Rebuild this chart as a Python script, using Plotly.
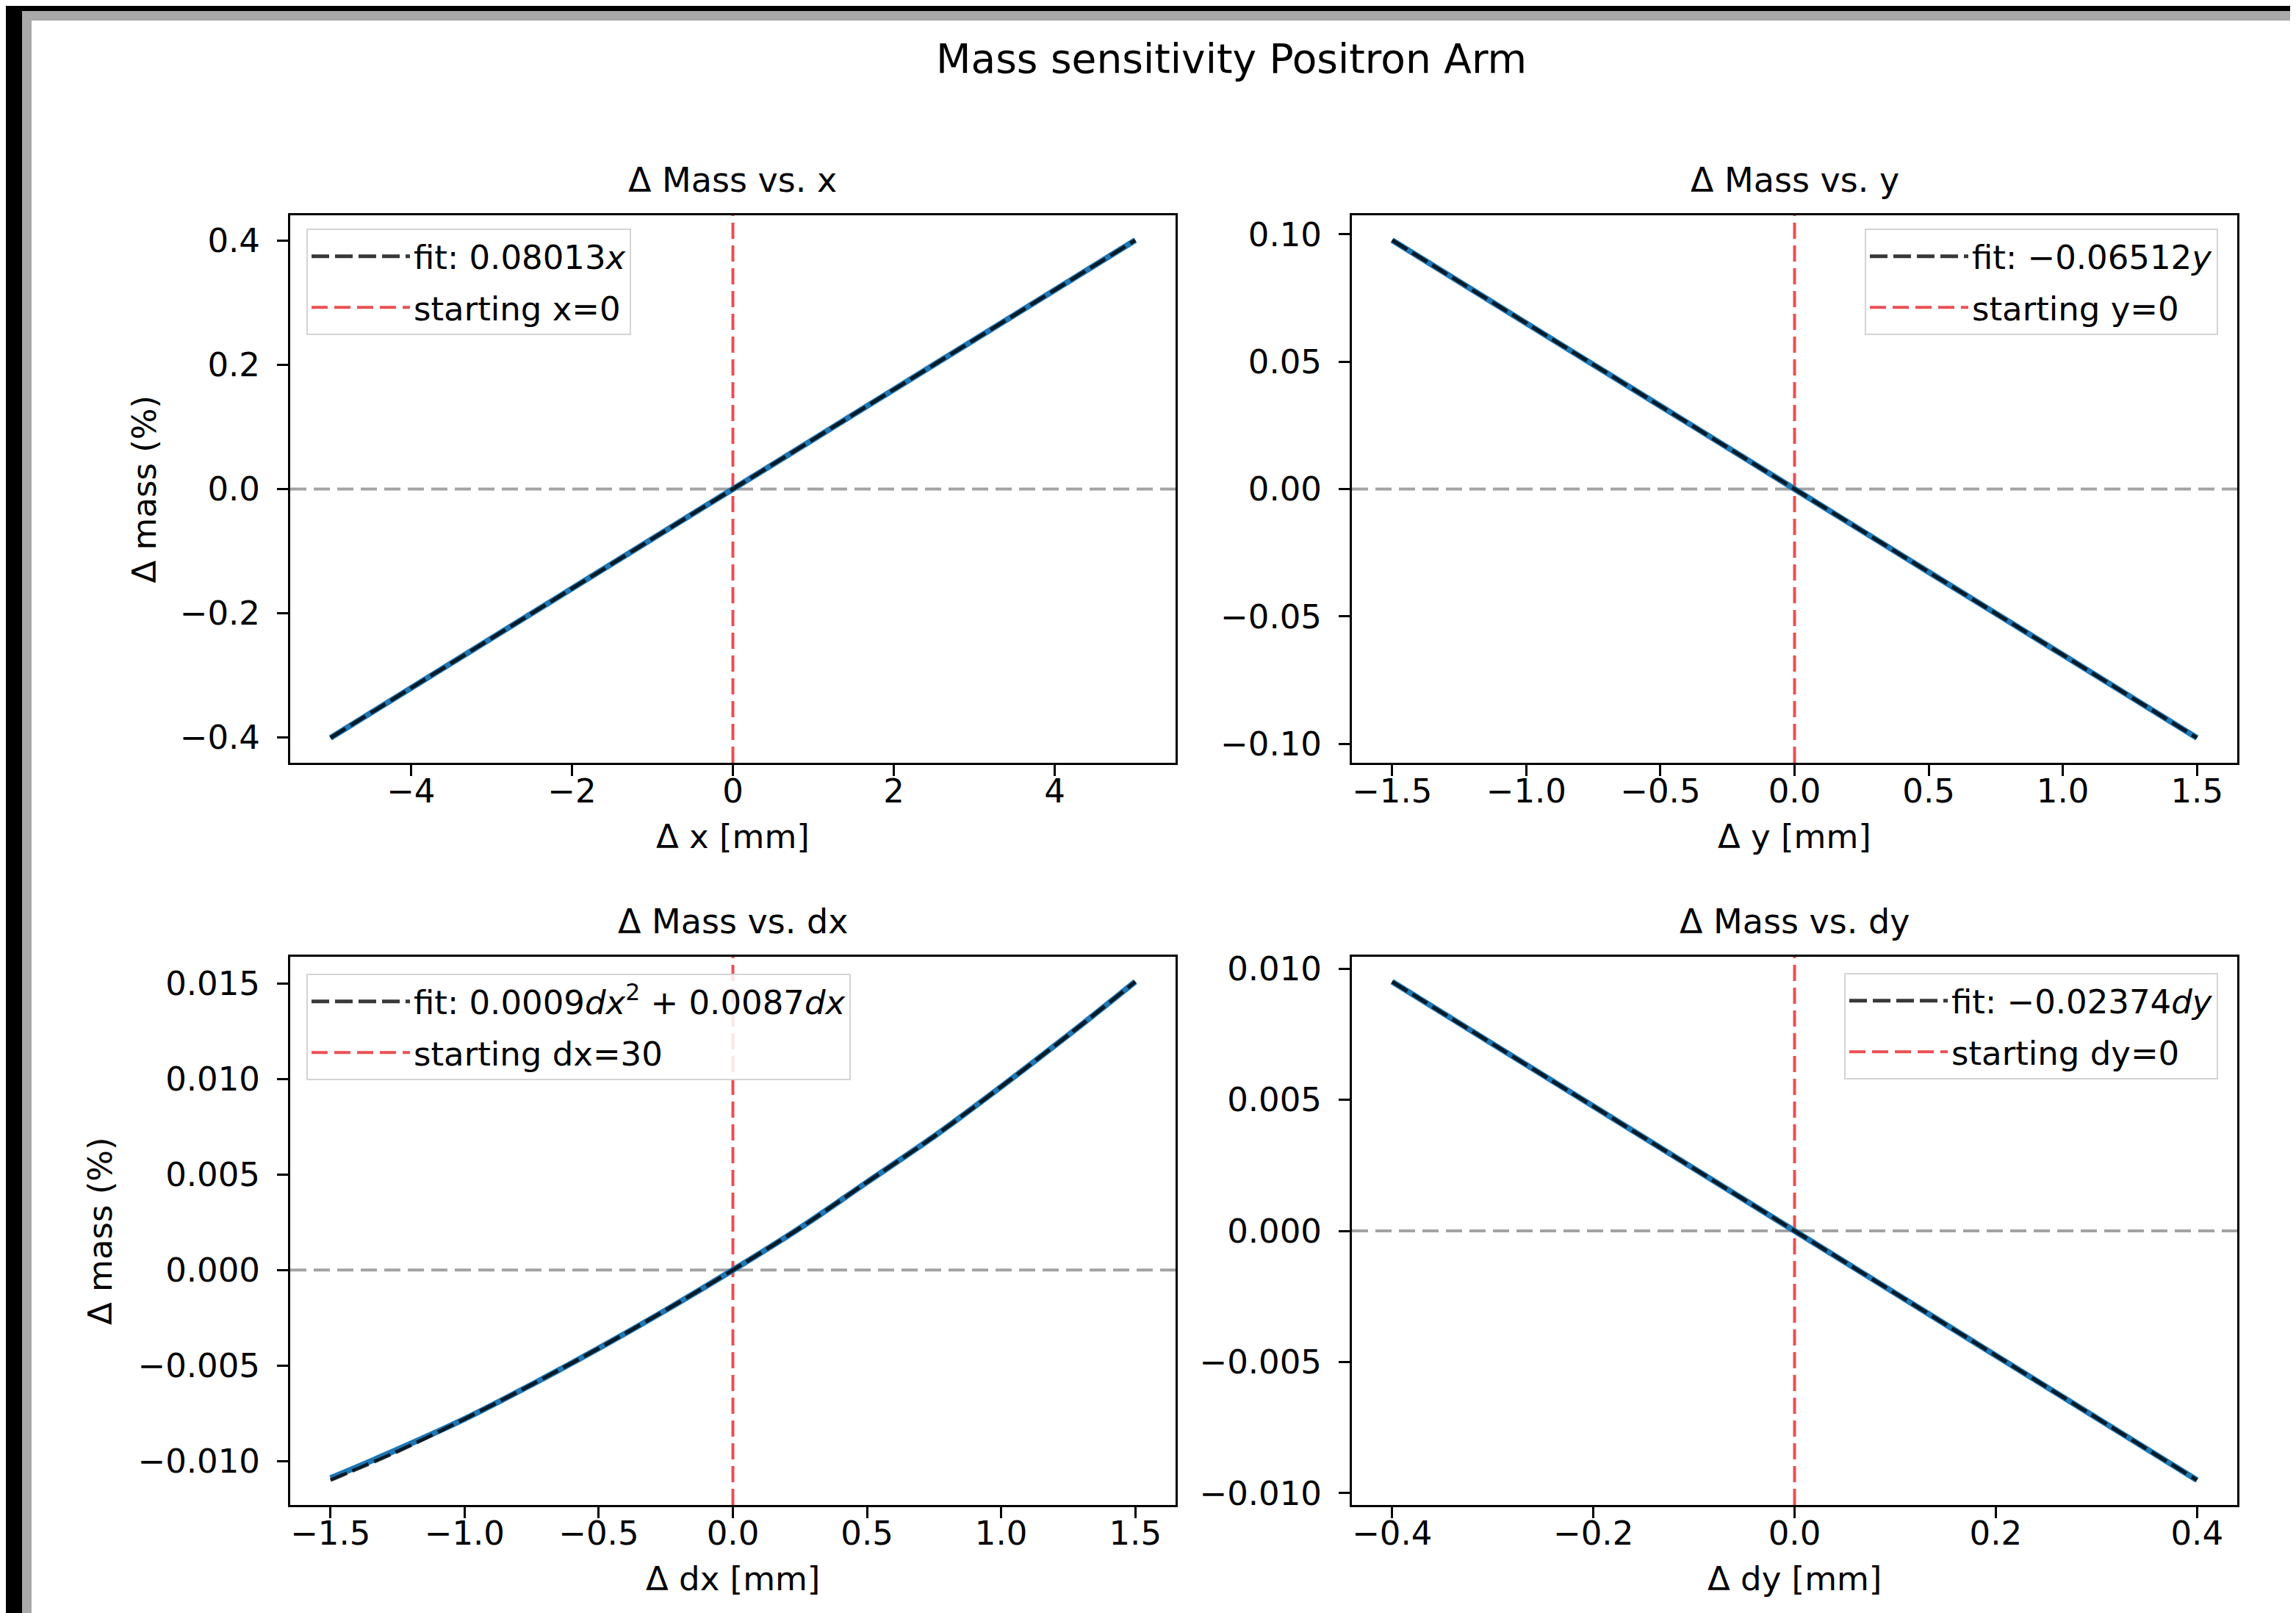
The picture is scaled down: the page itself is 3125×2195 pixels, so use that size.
import plotly.graph_objects as go

W, H = 3125, 2195

# ---------------- data ----------------
# Panel 1: Delta mass vs x
x_vals = [-5, -4, -3, -2, -1, 0, 1, 2, 3, 4, 5]
mass_x = [-0.4007, -0.3205, -0.2404, -0.1603, -0.0801, 0.0, 0.0801, 0.1603, 0.2404, 0.3205, 0.4007]
fit_x = [-0.4007, -0.3205, -0.2404, -0.1603, -0.0801, 0.0, 0.0801, 0.1603, 0.2404, 0.3205, 0.4007]

# Panel 2: Delta mass vs y
y_vals = [-1.5, -1.0, -0.5, 0.0, 0.5, 1.0, 1.5]
mass_y = [0.0977, 0.0651, 0.0326, 0.0, -0.0326, -0.0651, -0.0977]
fit_y = [0.0977, 0.0651, 0.0326, 0.0, -0.0326, -0.0651, -0.0977]

# Panel 3: Delta mass vs dx
dx_vals = [-1.5, -1.25, -1.0, -0.75, -0.5, -0.25, 0.0, 0.25, 0.5, 0.75, 1.0, 1.25, 1.5]
mass_dx = [-0.0109, -0.0094, -0.0078, -0.0060, -0.0041, -0.0021, 0.0, 0.0022, 0.0046, 0.0070, 0.0096, 0.0123, 0.0151]
fit_dx = [-0.0110, -0.0095, -0.0078, -0.0060, -0.0041, -0.0021, 0.0, 0.0022, 0.0046, 0.0070, 0.0096, 0.0123, 0.0151]

# Panel 4: Delta mass vs dy
dy_vals = [-0.4, -0.2, 0.0, 0.2, 0.4]
mass_dy = [0.0095, 0.00475, 0.0, -0.00475, -0.0095]
fit_dy = [0.0095, 0.00475, 0.0, -0.00475, -0.0095]

start_offset = 0.0   # starting position (vertical red line)
zero_level = 0.0     # horizontal grey reference

# texts
suptitle = "Mass sensitivity Positron Arm"
panel_titles = ["Δ Mass vs. x", "Δ Mass vs. y", "Δ Mass vs. dx", "Δ Mass vs. dy"]
x_titles = ["Δ x [mm]", "Δ y [mm]", "Δ dx [mm]", "Δ dy [mm]"]
y_title = "Δ mass (%)"
fit_labels = ["fit: 0.08013<i>x</i>", "fit: −0.06512<i>y</i>",
              "fit: 0.0009<i>dx</i><sup>2</sup> + 0.0087<i>dx</i>", "fit: −0.02374<i>dy</i>"]
start_labels = ["starting x=0", "starting y=0", "starting dx=30", "starting dy=0"]

# ticks
xt1 = [-4, -2, 0, 2, 4]
xl1 = ["−4", "−2", "0", "2", "4"]
yt1 = [-0.4, -0.2, 0.0, 0.2, 0.4]
yl1 = ["−0.4", "−0.2", "0.0", "0.2", "0.4"]
xt2 = [-1.5, -1.0, -0.5, 0.0, 0.5, 1.0, 1.5]
xl2 = ["−1.5", "−1.0", "−0.5", "0.0", "0.5", "1.0", "1.5"]
yt2 = [-0.10, -0.05, 0.0, 0.05, 0.10]
yl2 = ["−0.10", "−0.05", "0.00", "0.05", "0.10"]
xt3 = [-1.5, -1.0, -0.5, 0.0, 0.5, 1.0, 1.5]
xl3 = ["−1.5", "−1.0", "−0.5", "0.0", "0.5", "1.0", "1.5"]
yt3 = [-0.010, -0.005, 0.0, 0.005, 0.010, 0.015]
yl3 = ["−0.010", "−0.005", "0.000", "0.005", "0.010", "0.015"]
xt4 = [-0.4, -0.2, 0.0, 0.2, 0.4]
xl4 = ["−0.4", "−0.2", "0.0", "0.2", "0.4"]
yt4 = [-0.010, -0.005, 0.0, 0.005, 0.010]
yl4 = ["−0.010", "−0.005", "0.000", "0.005", "0.010"]

# ---------------- layout helpers ----------------
FONT = "DejaVu Sans"
def fx(p):
    return p / W
def fy(p):
    return 1 - p / H

# plot-area pixel boxes (left, right, top, bottom)
boxes = [(387, 1592, 285, 1030), (1832, 3037, 285, 1030),
         (387, 1592, 1294, 2040), (1832, 3037, 1294, 2040)]

panels = [
    (x_vals, mass_x, fit_x, xt1, xl1, yt1, yl1),
    (y_vals, mass_y, fit_y, xt2, xl2, yt2, yl2),
    (dx_vals, mass_dx, fit_dx, xt3, xl3, yt3, yl3),
    (dy_vals, mass_dy, fit_dy, xt4, xl4, yt4, yl4),
]

# legend boxes: (x px, y px top, anchor)
legend_pos = [(409, 303, "left"), (3011, 303, "right"), (409, 1317, "left"), (3011, 1316, "right")]

def pad_range(vals):
    lo, hi = min(vals), max(vals)
    p = 0.05 * (hi - lo)
    return [lo - p, hi + p]

fig = go.Figure()
shapes = []
annotations = []
layout_upd = {}

for i, (xs, ys, fs, xtv, xtl, ytv, ytl) in enumerate(panels):
    n = i + 1
    xa = "x" if n == 1 else f"x{n}"
    ya = "y" if n == 1 else f"y{n}"
    leg = "legend" if n == 1 else f"legend{n}"
    l, r, t, b = boxes[i]

    fig.add_trace(go.Scatter(x=xs, y=ys, mode="lines", xaxis=xa, yaxis=ya,
                             line=dict(color="#1f77b4", width=8, shape="spline"),
                             showlegend=False, hoverinfo="skip"))
    fig.add_trace(go.Scatter(x=xs, y=fs, mode="lines", xaxis=xa, yaxis=ya,
                             line=dict(color="rgba(0,0,0,0.78)", width=5, dash="24px,8px",
                                       shape="spline"),
                             name=fit_labels[i], legend=leg, legendgroup=f"fit{n}",
                             showlegend=True))

    common = dict(showline=True, linecolor="black", linewidth=3, mirror=True,
                  ticks="outside", ticklen=15, tickwidth=3, tickcolor="black",
                  showgrid=False, zeroline=False,
                  tickfont=dict(family=FONT, size=45, color="black"))
    layout_upd[("xaxis" if n == 1 else f"xaxis{n}")] = dict(
        domain=[fx(l), fx(r)], anchor=ya, range=pad_range(xs),
        tickmode="array", tickvals=xtv, ticktext=xtl, ticklabelstandoff=-18, **common)
    layout_upd[("yaxis" if n == 1 else f"yaxis{n}")] = dict(
        domain=[fy(b), fy(t)], anchor=xa, range=pad_range(ys + fs),
        tickmode="array", tickvals=ytv, ticktext=ytl, ticklabelstandoff=14, **common)

    # grey zero line
    shapes.append(dict(type="line", xref=f"{xa} domain", yref=ya, x0=0, x1=1,
                       y0=zero_level, y1=zero_level, layer="below",
                       line=dict(color="rgba(128,128,128,0.72)", width=4, dash="22px,10px")))
    # red starting line (with legend entry)
    shapes.append(dict(type="line", xref=xa, yref=f"{ya} domain", x0=start_offset, x1=start_offset,
                       y0=0, y1=1, layer="below",
                       line=dict(color="rgba(232,40,45,0.82)", width=4, dash="22px,9px"),
                       showlegend=True, name=start_labels[i], legend=leg,
                       legendgroup=f"start{n}"))

    lx, ly, anc = legend_pos[i]
    layout_upd[leg] = dict(x=fx(lx), y=fy(ly), xanchor=anc, yanchor="top",
                           xref="paper", yref="paper",
                           bgcolor="rgba(255,255,255,0.85)", bordercolor="#d4d4d4",
                           borderwidth=2, font=dict(family=FONT, size=45, color="black"),
                           tracegroupgap=8, itemwidth=134, traceorder="grouped")

    # subplot title
    annotations.append(dict(text=panel_titles[i], x=fx((l + r) / 2), y=fy(t - 48),
                            xref="paper", yref="paper", showarrow=False,
                            xanchor="center", yanchor="middle",
                            font=dict(family=FONT, size=46, color="black")))
    # x-axis title
    annotations.append(dict(text=x_titles[i], x=fx((l + r) / 2), y=fy(b + 100),
                            xref="paper", yref="paper", showarrow=False,
                            xanchor="center", yanchor="middle",
                            font=dict(family=FONT, size=45, color="black")))

# y-axis titles (left column only)
annotations.append(dict(text=y_title, x=fx(188), y=fy((285 + 1030) / 2), xref="paper", yref="paper",
                        showarrow=False, textangle=-90, xanchor="center", yanchor="middle",
                        font=dict(family=FONT, size=45, color="black")))
annotations.append(dict(text=y_title, x=fx(128), y=fy((1294 + 2040) / 2), xref="paper", yref="paper",
                        showarrow=False, textangle=-90, xanchor="center", yanchor="middle",
                        font=dict(family=FONT, size=45, color="black")))
# figure title
annotations.append(dict(text=suptitle, x=fx(1668), y=fy(72), xref="paper", yref="paper",
                        showarrow=False, xanchor="center", yanchor="middle",
                        font=dict(family=FONT, size=55, color="black")))

# screenshot frame (black + grey strips on top and left)
shapes += [
    dict(type="rect", xref="paper", yref="paper", x0=0, x1=1, y0=fy(7), y1=1,
         fillcolor="black", line=dict(width=0), layer="above"),
    dict(type="rect", xref="paper", yref="paper", x0=fx(22), x1=1, y0=fy(20), y1=fy(7),
         fillcolor="#a9a9a9", line=dict(width=0), layer="above"),
    dict(type="rect", xref="paper", yref="paper", x0=0, x1=fx(22), y0=0, y1=1,
         fillcolor="black", line=dict(width=0), layer="above"),
    dict(type="rect", xref="paper", yref="paper", x0=fx(22), x1=fx(35), y0=0, y1=fy(7),
         fillcolor="#a9a9a9", line=dict(width=0), layer="above"),
]

fig.update_layout(
    width=W, height=H,
    margin=dict(l=0, r=0, t=0, b=0, autoexpand=False),
    paper_bgcolor="white", plot_bgcolor="white",
    font=dict(family=FONT, color="black"),
    shapes=shapes, annotations=annotations,
    **layout_upd,
)

fig.write_html("out.html")
